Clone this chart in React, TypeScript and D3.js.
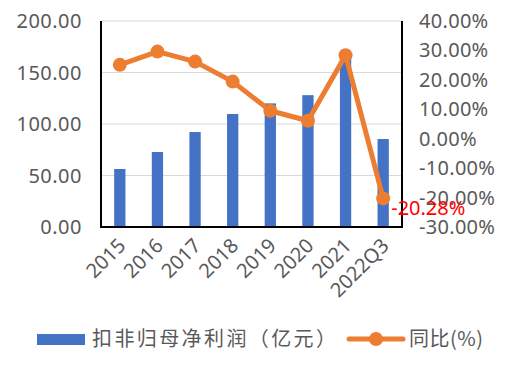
import React from 'react';
import * as d3 from 'd3';

const categories = ['2015', '2016', '2017', '2018', '2019', '2020', '2021', '2022Q3'];
const profitValues = [56.3, 72.8, 92.2, 109.7, 120.0, 128.0, 165.0, 85.4];
const yoyValues = [25.1, 29.6, 26.2, 19.4, 9.5, 6.1, 28.4, -20.28];
const leftTicks = [0, 50, 100, 150, 200];
const rightTicks = [40, 30, 20, 10, 0, -10, -20, -30];

const W = 509;
const H = 367;
const FONT = '"Noto Sans", "Noto Sans CJK SC", sans-serif';
const CJK = '"Noto Sans CJK SC", sans-serif';
const GRAY = '#595959';
const BLUE = '#4472C4';
const ORANGE = '#ED7D31';

const App = () => {
  const left = 101;
  const right = 402;
  const top = 21;
  const bottom = 227;

  const x = d3.scaleBand<string>().domain(categories).range([left, right]).padding(0);
  const yL = d3.scaleLinear().domain([0, 200]).range([bottom, top]);
  const yR = d3.scaleLinear().domain([-30, 40]).range([bottom, top]);
  const barW = x.bandwidth() * 0.3;
  const cx = (c: string) => (x(c) ?? 0) + x.bandwidth() / 2;

  const line = d3
    .line<number>()
    .x((_, i) => cx(categories[i]))
    .y((d) => yR(d));

  const last = yoyValues.length - 1;

  return (
    <svg
      width={W}
      height={H}
      viewBox={`0 0 ${W} ${H}`}
      style={{ position: 'absolute', left: 0, top: 0, background: '#fff' }}
    >
      {/* grid */}
      {leftTicks.filter((t) => t > 0).map((t) => (
        <line key={t} x1={left} x2={right} y1={yL(t)} y2={yL(t)} stroke="#d9d9d9" strokeWidth={1.2} />
      ))}

      {/* bars */}
      {profitValues.map((v, i) => (
        <rect
          key={categories[i]}
          x={cx(categories[i]) - barW / 2}
          y={yL(v)}
          width={barW}
          height={bottom - yL(v)}
          fill={BLUE}
        />
      ))}

      {/* axes */}
      <line x1={left} x2={left} y1={top} y2={bottom} stroke="#000" strokeWidth={2} />
      <line x1={right} x2={right} y1={top} y2={bottom} stroke="#000" strokeWidth={2} />
      <line x1={left - 1} x2={right + 1} y1={bottom} y2={bottom} stroke="#000" strokeWidth={2} />

      {/* left ticks */}
      {leftTicks.map((t) => (
        <text
          key={t}
          x={82}
          y={yL(t)}
          dy="0.35em"
          textAnchor="end"
          fill={GRAY}
          fontFamily={FONT}
          fontSize={20}
          letterSpacing={0.5}
        >
          {t.toFixed(2)}
        </text>
      ))}

      {/* right ticks */}
      {rightTicks.map((t) => (
        <text
          key={t}
          x={419}
          y={yR(t)}
          dy="0.35em"
          fill={GRAY}
          fontFamily={FONT}
          fontSize={20}
          letterSpacing={0.3}
        >
          {`${t.toFixed(2)}%`}
        </text>
      ))}

      {/* x labels */}
      {categories.map((c) => (
        <text
          key={c}
          transform={`translate(${cx(c) + 7},${bottom + 20}) rotate(-45)`}
          textAnchor="end"
          fill={GRAY}
          fontFamily={FONT}
          fontSize={20}
        >
          {c}
        </text>
      ))}

      {/* line */}
      <path d={line(yoyValues) ?? ''} fill="none" stroke={ORANGE} strokeWidth={5} strokeLinejoin="round" />
      {yoyValues.map((v, i) => (
        <circle key={categories[i]} cx={cx(categories[i])} cy={yR(v)} r={7} fill={ORANGE} />
      ))}

      {/* data label */}
      <text
        x={cx(categories[last]) + 8}
        y={yR(yoyValues[last]) + 10}
        dy="0.35em"
        fill="#FF0000"
        fontFamily={FONT}
        fontSize={20}
      >
        {`${yoyValues[last].toFixed(2)}%`}
      </text>

      {/* legend */}
      <rect x={37} y={334} width={48} height={11} fill={BLUE} />
      <text x={92} y={339} dy="0.35em" fill={GRAY} fontFamily={CJK} fontSize={20} letterSpacing={2.4}>
        扣非归母净利润（亿元）
      </text>
      <line x1={349} x2={403} y1={339} y2={339} stroke={ORANGE} strokeWidth={5} strokeLinecap="round" />
      <circle cx={376} cy={339} r={7} fill={ORANGE} />
      <text x={409} y={339} dy="0.35em" fill={GRAY} fontFamily={CJK} fontSize={20} letterSpacing={0.5}>
        同比(%)
      </text>
    </svg>
  );
};

export default App;
